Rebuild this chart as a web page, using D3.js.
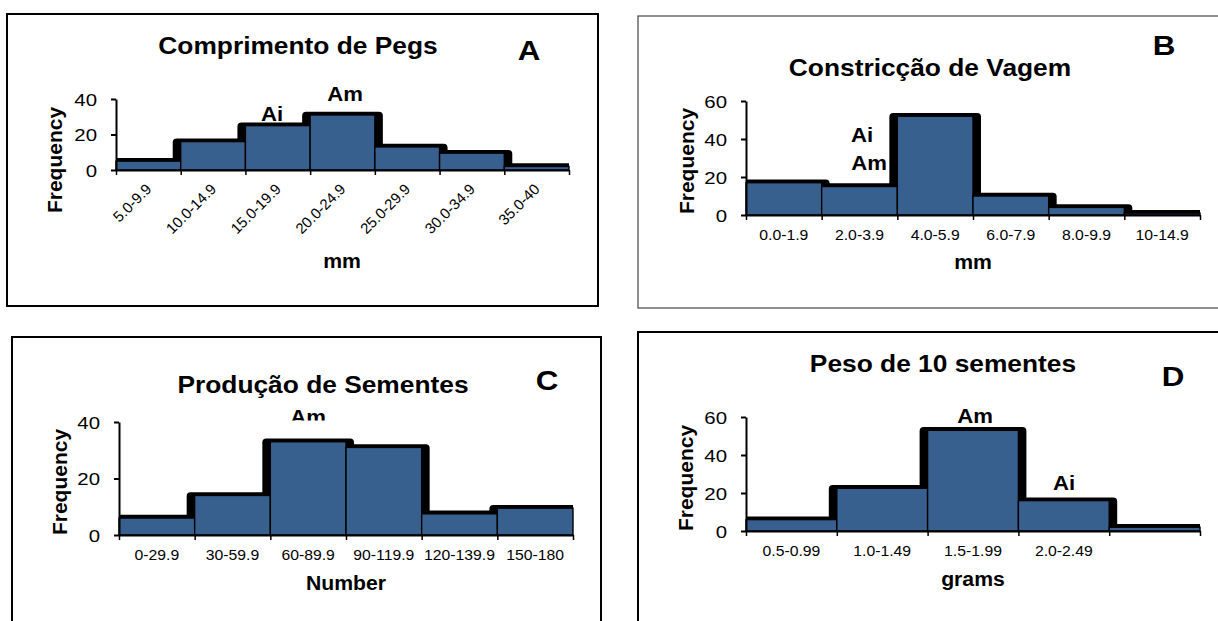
<!DOCTYPE html>
<html><head><meta charset="utf-8">
<script src="https://cdn.jsdelivr.net/npm/d3@7"></script>
<style>
html,body{margin:0;padding:0;background:#fff;}
svg{display:block;font-family:"Liberation Sans",Arial,Helvetica,sans-serif;}
</style></head><body>
<svg id="chart" width="1218" height="621"></svg>
<script>
// ---------------- data ----------------
const titleA = "Comprimento de Pegs";
const categoriesA = ["5.0-9.9","10.0-14.9","15.0-19.9","20.0-24.9","25.0-29.9","30.0-34.9","35.0-40"];
const frequencyA = [5, 16, 25, 31, 13, 9.5, 2];
const yTicksA = [0, 20, 40];
const xTitleA = "mm";
const notesA = ["Ai", "Am"];

const titleB = "Constricção de Vagem";
const categoriesB = ["0.0-1.9","2.0-3.9","4.0-5.9","6.0-7.9","8.0-9.9","10-14.9"];
const frequencyB = [17, 15, 52, 10, 4, 1];
const yTicksB = [0, 20, 40, 60];
const xTitleB = "mm";
const notesB = ["Ai", "Am"];

const titleC = "Produção de Sementes";
const categoriesC = ["0-29.9","30-59.9","60-89.9","90-119.9","120-139.9","150-180"];
const frequencyC = [6, 14, 33, 31, 7.5, 9.5];
const yTicksC = [0, 20, 40];
const xTitleC = "Number";
const notesC = ["Ai", "Am"];

const titleD = "Peso de 10 sementes";
const categoriesD = ["0.5-0.99","1.0-1.49","1.5-1.99","2.0-2.49",""];
const frequencyD = [6, 22.5, 53, 16, 2];
const yTicksD = [0, 20, 40, 60];
const xTitleD = "grams";
const notesD = ["Am", "Ai"];

const yTitle = "Frequency";

// ---------------- layout ----------------
const panels = [
  {letter:"A", title:titleA, cats:categoriesA, vals:frequencyA, ticks:yTicksA, xTitle:xTitleA, notes:notesA,
   box:{x0:7,y0:14,x1:598,y1:306,stroke:"#000",w:2},
   plot:{x0:116,x1:569,yb:170,yt:99},
   titlePos:[298,54], letterPos:[529,60], yTitlePos:[62,160], xTitlePos:[342,268],
   rotated:true, notePos:[[272,121],[345,101]], clipNotes:false},
  {letter:"B", title:titleB, cats:categoriesB, vals:frequencyB, ticks:yTicksB, xTitle:xTitleB, notes:notesB,
   box:{x0:638,y0:16,x1:1222,y1:308,stroke:"#444",w:1.2},
   plot:{x0:746,x1:1200,yb:215,yt:101},
   titlePos:[930,76], letterPos:[1164,55], yTitlePos:[694,161], xTitlePos:[973,269],
   rotated:false, notePos:[[862,141.5],[869,170]], clipNotes:false},
  {letter:"C", title:titleC, cats:categoriesC, vals:frequencyC, ticks:yTicksC, xTitle:xTitleC, notes:notesC,
   box:{x0:12,y0:337,x1:601,y1:640,stroke:"#000",w:2},
   plot:{x0:119,x1:573,yb:535,yt:422},
   titlePos:[323,393], letterPos:[547,390], yTitlePos:[67,482], xTitlePos:[346,590],
   rotated:false, notePos:[[235,474],[308,424]], clipNotes:true},
  {letter:"D", title:titleD, cats:categoriesD, vals:frequencyD, ticks:yTicksD, xTitle:xTitleD, notes:notesD,
   box:{x0:638,y0:332,x1:1222,y1:640,stroke:"#000",w:2},
   plot:{x0:746,x1:1200,yb:531,yt:417},
   titlePos:[943,372], letterPos:[1173,385.5], yTitlePos:[693,478], xTitlePos:[973,586],
   rotated:false, notePos:[[975,422.5],[1064,490]], clipNotes:false}
];

const BLUE = "#37608F";
const svg = d3.select("#chart");
const defs = svg.append("defs");

function stretch(sel, f){
  sel.each(function(){
    const w = this.getComputedTextLength();
    if (w > 0) {
      this.setAttribute("textLength", (w*f).toFixed(2));
      this.setAttribute("lengthAdjust", "spacingAndGlyphs");
    }
  });
}

panels.forEach((p, pi) => {
  const g = svg.append("g");
  // frame
  g.append("rect")
    .attr("x", p.box.x0).attr("y", p.box.y0)
    .attr("width", p.box.x1 - p.box.x0).attr("height", p.box.y1 - p.box.y0)
    .attr("fill", "#fff").attr("stroke", p.box.stroke).attr("stroke-width", p.box.w);

  const n = p.cats.length;
  const ymax = d3.max(p.ticks);
  const x = d3.scaleBand().domain(d3.range(n)).range([p.plot.x0, p.plot.x1]).padding(0);
  const xl = d3.scaleLinear().domain([0, n]).range([p.plot.x0, p.plot.x1]);
  const y = d3.scaleLinear().domain([0, ymax]).range([p.plot.yb, p.plot.yt]);

  // clip for shadow
  const cid = "clip" + pi;
  defs.append("clipPath").attr("id", cid).append("rect")
    .attr("x", p.plot.x0).attr("y", p.plot.yt - 60)
    .attr("width", p.plot.x1 - p.plot.x0).attr("height", p.plot.yb - p.plot.yt + 60);

  const data = p.vals.map((v, i) => ({i, v}));
  // shadow silhouette
  g.append("g").attr("clip-path", `url(#${cid})`)
    .selectAll("rect").data(data).join("rect")
    .attr("x", d => x(d.i) - 8)
    .attr("width", x.bandwidth() + 16)
    .attr("y", d => y(d.v) - 3.2)
    .attr("height", d => y(0) - y(d.v) + 3.2)
    .attr("rx", 4).attr("ry", 4)
    .attr("fill", "#000");
  // bars
  g.append("g").selectAll("rect").data(data).join("rect")
    .attr("x", d => x(d.i))
    .attr("width", x.bandwidth())
    .attr("y", d => y(d.v))
    .attr("height", d => y(0) - y(d.v))
    .attr("fill", BLUE).attr("stroke", "#000").attr("stroke-width", 1.4);

  // y axis
  const ya = g.append("g").attr("transform", `translate(${p.plot.x0},0)`)
    .call(d3.axisLeft(y).tickValues(p.ticks).tickSize(5).tickPadding(14).tickSizeOuter(0));
  ya.select(".domain").attr("stroke", "#000").attr("stroke-width", 2);
  ya.selectAll(".tick line").attr("stroke", "#000").attr("stroke-width", 2);
  ya.selectAll(".tick text").attr("font-size", 17).attr("fill", "#000")
    .attr("font-family", "Liberation Sans, Arial, sans-serif").attr("dy", "0.36em");
  stretch(ya.selectAll(".tick text"), 1.2);

  // x axis line + boundary ticks
  const xa = g.append("g").attr("transform", `translate(0,${p.plot.yb})`)
    .call(d3.axisBottom(xl).tickValues(d3.range(n + 1)).tickSize(5).tickSizeOuter(0).tickFormat(""));
  xa.select(".domain").attr("stroke", "#000").attr("stroke-width", 2);
  xa.selectAll(".tick line").attr("stroke", "#000").attr("stroke-width", 1.5);

  // x labels
  const xlab = g.append("g").attr("transform", `translate(0,${p.plot.yb})`)
    .call(d3.axisBottom(x).tickSize(0).tickFormat(i => p.cats[i]));
  xlab.select(".domain").remove();
  const lt = xlab.selectAll(".tick text").attr("font-size", 15).attr("fill", "#000")
    .attr("font-family", "Liberation Sans, Arial, sans-serif");
  if (p.rotated) {
    lt.attr("x", 0).attr("y", 0).attr("dy", 0).attr("text-anchor", "end")
      .attr("transform", "translate(4,20) rotate(-45)");
  } else {
    lt.attr("y", 25).attr("dy", 0);
    stretch(lt, 1.05);
  }

  // titles
  const t = g.append("text").attr("x", p.titlePos[0]).attr("y", p.titlePos[1])
    .attr("text-anchor", "middle").attr("font-weight", "bold").attr("font-size", 23.5)
    .text(p.title);
  stretch(t, 1.12);
  const L = g.append("text").attr("x", p.letterPos[0]).attr("y", p.letterPos[1])
    .attr("text-anchor", "middle").attr("font-weight", "bold").attr("font-size", 28.5)
    .text(p.letter);
  stretch(L, 1.1);
  g.append("text")
    .attr("transform", `translate(${p.yTitlePos[0]},${p.yTitlePos[1]}) rotate(-90)`)
    .attr("text-anchor", "middle").attr("font-weight", "bold").attr("font-size", 21)
    .text(yTitle);
  const xt = g.append("text").attr("x", p.xTitlePos[0]).attr("y", p.xTitlePos[1])
    .attr("text-anchor", "middle").attr("font-weight", "bold").attr("font-size", 20)
    .text(p.xTitle);
  stretch(xt, 1.06);

  // annotations
  let ng = g.append("g");
  if (p.clipNotes) {
    const nid = "nclip" + pi;
    defs.append("clipPath").attr("id", nid).append("rect")
      .attr("x", p.box.x0).attr("y", p.box.y0)
      .attr("width", p.box.x1 - p.box.x0).attr("height", y(ymax) - 1.5 - p.box.y0);
    ng.attr("clip-path", `url(#${nid})`);
  }
  p.notes.forEach((s, k) => {
    const nt = ng.append("text").attr("x", p.notePos[k][0]).attr("y", p.notePos[k][1])
      .attr("text-anchor", "middle").attr("font-weight", "bold").attr("font-size", 20.5)
      .text(s);
    stretch(nt, 1.08);
  });
});
</script>
</body></html>
